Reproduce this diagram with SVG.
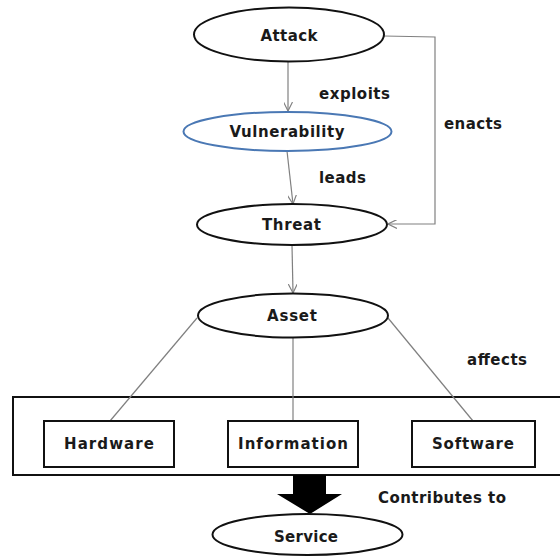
<svg xmlns="http://www.w3.org/2000/svg" width="560" height="556" viewBox="0 0 560 556">
<style>
.node{fill:#fff;stroke:#111;stroke-width:2}
.vuln{fill:#fff;stroke:#4a78b4;stroke-width:2}
.lbl{font-family:"DejaVu Sans","Liberation Sans",Arial,sans-serif;font-weight:bold;font-size:15px;fill:#1a1a1a;text-anchor:middle}
.edge{fill:none;stroke:#808080;stroke-width:1.2}
.elbl{font-family:"DejaVu Sans","Liberation Sans",Arial,sans-serif;font-weight:bold;font-size:15px;fill:#1a1a1a}
</style>
<defs>
<marker id="arr" viewBox="0 0 10 10" refX="10" refY="5" markerWidth="9" markerHeight="9" markerUnits="userSpaceOnUse" orient="auto">
<path d="M0,0 L10,5 L0,10" fill="none" stroke="#808080" stroke-width="1.3"/>
</marker>
</defs>
<rect width="560" height="556" fill="#fff"/>
<g id="group-box">
<rect x="13" y="397" width="560" height="78" fill="none" stroke="#111" stroke-width="2"/>
</g>
<g id="connectors">
<line class="edge" x1="288" y1="62" x2="288" y2="111" marker-end="url(#arr)"/>
<line class="edge" x1="287" y1="151" x2="293" y2="204" marker-end="url(#arr)"/>
<polyline class="edge" points="384,36 435,37 435,224 388,224" marker-end="url(#arr)"/>
<line class="edge" x1="292" y1="245" x2="293" y2="293" marker-end="url(#arr)"/>
<line class="edge" x1="197" y1="318" x2="110" y2="421"/>
<line class="edge" x1="293" y1="338" x2="293" y2="421"/>
<line class="edge" x1="388" y1="318" x2="473" y2="421"/>
<polygon points="293,475 326,475 326,494 342,494 310,514 277,494 293,494" fill="#000"/>
<text class="elbl" x="319" y="99" textLength="71" lengthAdjust="spacing">exploits</text>
<text class="elbl" x="444" y="129" textLength="58" lengthAdjust="spacing">enacts</text>
<text class="elbl" x="319" y="183" textLength="47" lengthAdjust="spacing">leads</text>
<text class="elbl" x="467" y="365" textLength="60" lengthAdjust="spacing">affects</text>
<text class="elbl" x="378" y="503" textLength="128" lengthAdjust="spacing">Contributes to</text>
</g>
<g id="attack">
<ellipse class="node" cx="289" cy="34.5" rx="95" ry="27"/>
<text class="lbl" x="289" y="41" textLength="57" lengthAdjust="spacing">Attack</text>
</g>
<g id="vulnerability">
<ellipse class="vuln" cx="287.5" cy="131.5" rx="104" ry="19.5"/>
<text class="lbl" x="287" y="137" textLength="115" lengthAdjust="spacing">Vulnerability</text>
</g>
<g id="threat">
<ellipse class="node" cx="292" cy="224.5" rx="95" ry="20.5"/>
<text class="lbl" x="291.5" y="230" textLength="59" lengthAdjust="spacing">Threat</text>
</g>
<g id="asset">
<ellipse class="node" cx="293" cy="315.5" rx="95" ry="22"/>
<text class="lbl" x="292" y="321" textLength="50" lengthAdjust="spacing">Asset</text>
</g>
<g id="hardware">
<rect class="node" x="44" y="421" width="130" height="46"/>
<text class="lbl" x="109" y="449" textLength="90" lengthAdjust="spacing">Hardware</text>
</g>
<g id="information">
<rect class="node" x="228" y="421" width="130" height="46"/>
<text class="lbl" x="293" y="449" textLength="110" lengthAdjust="spacing">Information</text>
</g>
<g id="software">
<rect class="node" x="412" y="421" width="123" height="46"/>
<text class="lbl" x="473" y="449" textLength="82" lengthAdjust="spacing">Software</text>
</g>
<g id="service">
<ellipse class="node" cx="307.5" cy="534.5" rx="95" ry="20.5"/>
<text class="lbl" x="306" y="542" textLength="64" lengthAdjust="spacing">Service</text>
</g>
</svg>
